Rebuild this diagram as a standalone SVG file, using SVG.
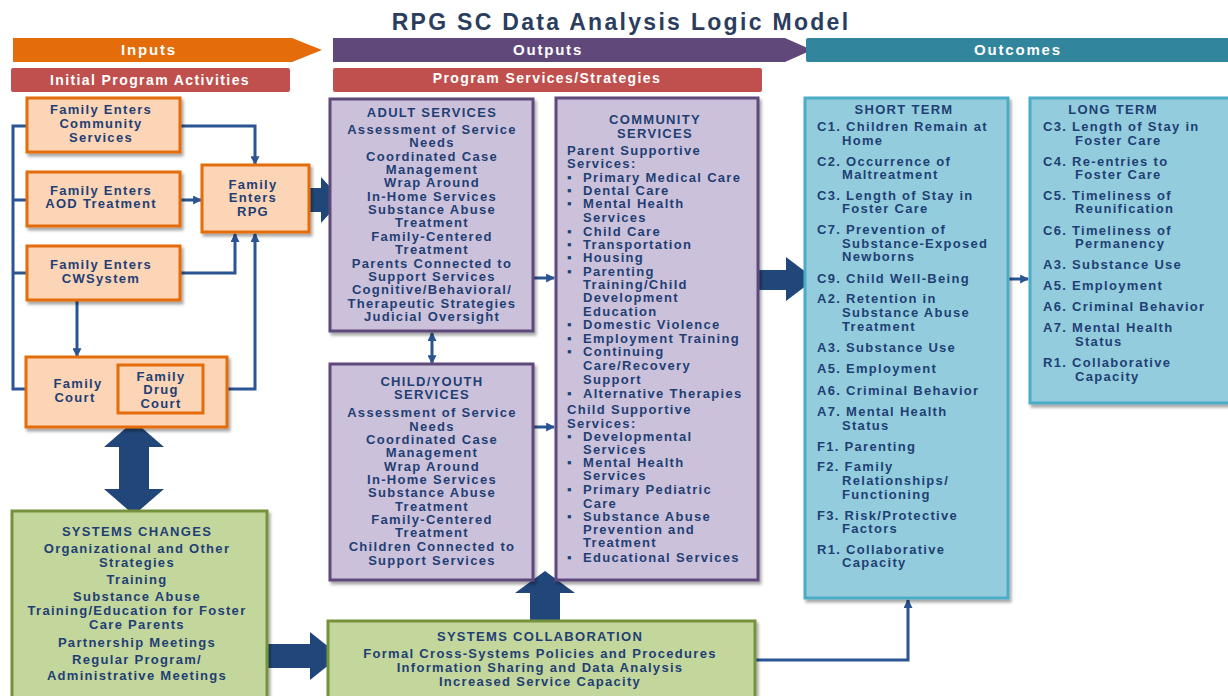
<svg xmlns="http://www.w3.org/2000/svg" width="1228" height="696" viewBox="0 0 1228 696">
<style>
.t{font-family:"Liberation Sans",Arial,sans-serif;font-weight:bold;font-size:13px;letter-spacing:1.3px;fill:#1f3f74}
.c{text-anchor:middle}
.h{font-family:"Liberation Sans",Arial,sans-serif;font-weight:bold;font-size:15px;letter-spacing:1.8px;fill:#ffffff;text-anchor:middle}
.s{font-family:"Liberation Sans",Arial,sans-serif;font-weight:bold;font-size:14px;letter-spacing:1.4px;fill:#ffffff;text-anchor:middle}
.or{fill:#fbd5b5;stroke:#e46c0a;stroke-width:3}
.pu{fill:#ccc1da;stroke:#5f497a;stroke-width:3}
.te{fill:#93cddd;stroke:#4bacc6;stroke-width:3}
.gr{fill:#c3d69b;stroke:#76923c;stroke-width:3}
.ln{fill:none;stroke:#2a5592;stroke-width:3}
.blk{fill:#21477a}
</style>
<defs>
<filter id="sh" x="-10%" y="-10%" width="130%" height="130%">
<feDropShadow dx="2" dy="3" stdDeviation="1.5" flood-color="#000" flood-opacity="0.35"/>
</filter>
<marker id="ah" viewBox="0 0 8 8" refX="7" refY="4" markerWidth="9" markerHeight="9" markerUnits="userSpaceOnUse" orient="auto-start-reverse">
<path d="M0,0 L8,4 L0,8 z" fill="#2a5592"/>
</marker>
</defs>

<g id="title">
<text x="621" y="30" style="font-family:'Liberation Sans',Arial,sans-serif;font-weight:bold;font-size:23px;letter-spacing:2.3px;fill:#2b3d5c;text-anchor:middle">RPG SC Data Analysis Logic Model</text>
</g>

<g id="header-inputs">
<polygon points="13,38 292,38 322,50 292,62 13,62" fill="#e46c0a"/>
<text class="h" x="149" y="55">Inputs</text>
</g>
<g id="header-outputs">
<polygon points="333,38 785,38 812,50 785,62 333,62" fill="#60497a"/>
<text class="h" x="548" y="55">Outputs</text>
</g>
<g id="header-outcomes">
<rect x="806" y="38" width="424" height="24" rx="2" fill="#31859c"/>
<text class="h" x="1018" y="55">Outcomes</text>
</g>
<g id="sub-initial">
<rect x="11" y="68" width="279" height="24" rx="2" fill="#c0504d"/>
<text class="s" x="150" y="85">Initial Program Activities</text>
</g>
<g id="sub-program">
<rect x="333" y="68" width="429" height="24" rx="2" fill="#c0504d"/>
<text class="s" x="547" y="83">Program Services/Strategies</text>
</g>

<g id="connectors">
<path class="ln" d="M26,126 H13 V389 H26"/>
<path class="ln" d="M13,200 H26"/>
<path class="ln" d="M13,273 H26"/>
<path class="ln" d="M180,126 H255 V164" marker-end="url(#ah)"/>
<path class="ln" d="M180,200 H201" marker-end="url(#ah)"/>
<path class="ln" d="M180,273 H235 V234" marker-end="url(#ah)"/>
<path class="ln" d="M203,389 H255 V234" marker-end="url(#ah)"/>
<path class="ln" d="M77,300 V356" marker-end="url(#ah)"/>
<path class="ln" d="M432,333 V363" marker-start="url(#ah)" marker-end="url(#ah)"/>
<path class="ln" d="M533,278 H554" marker-end="url(#ah)"/>
<path class="ln" d="M533,427 H554" marker-end="url(#ah)"/>
<path class="ln" d="M1008,279 H1028" marker-end="url(#ah)"/>
<path class="ln" d="M755,660 H908 V600" marker-end="url(#ah)"/>
<polygon class="blk" points="310,188 321,188 321,177 342,200 321,223 321,212 310,212"/>
<polygon class="blk" points="758,270 786,270 786,257 815,279 786,301 786,290 758,290"/>
<polygon class="blk" points="530,622 530,593 515,593 545,571 575,593 560,593 560,622"/>
<polygon class="blk" points="267,644 310,644 310,632 340,656 310,680 310,668 267,668"/>
<polygon class="blk" points="134,421 164,447 149,447 149,489 164,489 134,515 104,489 119,489 119,447 104,447"/>
</g>

<g id="community-entry">
<rect class="or" x="27" y="98" width="153" height="54" filter="url(#sh)"/>
<text class="t c" x="101" y="114">Family Enters</text>
<text class="t c" x="101" y="128">Community</text>
<text class="t c" x="101" y="142">Services</text>
</g>
<g id="aod-entry">
<rect class="or" x="27" y="172" width="153" height="54" filter="url(#sh)"/>
<text class="t c" x="101" y="195">Family Enters</text>
<text class="t c" x="101" y="208">AOD Treatment</text>
</g>
<g id="rpg">
<rect class="or" x="202" y="165" width="107" height="67" filter="url(#sh)"/>
<text class="t c" x="253" y="189">Family</text>
<text class="t c" x="253" y="202">Enters</text>
<text class="t c" x="253" y="216">RPG</text>
</g>
<g id="cw-entry">
<rect class="or" x="27" y="246" width="153" height="54" filter="url(#sh)"/>
<text class="t c" x="101" y="269">Family Enters</text>
<text class="t c" x="101" y="283">CWSystem</text>
</g>
<g id="family-court">
<rect class="or" x="26" y="357" width="201" height="70" filter="url(#sh)"/>
<text class="t c" x="78" y="388">Family</text>
<text class="t c" x="75" y="402">Court</text>
</g>
<g id="drug-court">
<rect class="or" x="118" y="365" width="85" height="48"/>
<text class="t c" x="161" y="381">Family</text>
<text class="t c" x="161" y="394">Drug</text>
<text class="t c" x="161" y="408">Court</text>
</g>

<g id="adult-services">
<rect class="pu" x="330" y="99" width="203" height="232" filter="url(#sh)"/>
<text class="t c" x="432" y="117">ADULT SERVICES</text>
<text class="t c" x="432" y="134">Assessment of Service</text>
<text class="t c" x="432" y="147">Needs</text>
<text class="t c" x="432" y="161">Coordinated Case</text>
<text class="t c" x="432" y="174">Management</text>
<text class="t c" x="432" y="187">Wrap Around</text>
<text class="t c" x="432" y="201">In-Home Services</text>
<text class="t c" x="432" y="214">Substance Abuse</text>
<text class="t c" x="432" y="227">Treatment</text>
<text class="t c" x="432" y="241">Family-Centered</text>
<text class="t c" x="432" y="254">Treatment</text>
<text class="t c" x="432" y="268">Parents Connected to</text>
<text class="t c" x="432" y="281">Support Services</text>
<text class="t c" x="432" y="294">Cognitive/Behavioral/</text>
<text class="t c" x="432" y="308">Therapeutic Strategies</text>
<text class="t c" x="432" y="321">Judicial Oversight</text>
</g>

<g id="child-services">
<rect class="pu" x="330" y="364" width="203" height="216" filter="url(#sh)"/>
<text class="t c" x="432" y="386">CHILD/YOUTH</text>
<text class="t c" x="432" y="399">SERVICES</text>
<text class="t c" x="432" y="417">Assessment of Service</text>
<text class="t c" x="432" y="431">Needs</text>
<text class="t c" x="432" y="444">Coordinated Case</text>
<text class="t c" x="432" y="457">Management</text>
<text class="t c" x="432" y="471">Wrap Around</text>
<text class="t c" x="432" y="484">In-Home Services</text>
<text class="t c" x="432" y="497">Substance Abuse</text>
<text class="t c" x="432" y="511">Treatment</text>
<text class="t c" x="432" y="524">Family-Centered</text>
<text class="t c" x="432" y="537">Treatment</text>
<text class="t c" x="432" y="551">Children Connected to</text>
<text class="t c" x="432" y="565">Support Services</text>
</g>

<g id="community-services">
<rect class="pu" x="556" y="98" width="202" height="482" filter="url(#sh)"/>
<text class="t c" x="655" y="124">COMMUNITY</text>
<text class="t c" x="655" y="138">SERVICES</text>
<text class="t" x="567" y="155">Parent Supportive</text>
<text class="t" x="567" y="168">Services:</text>
<text class="t" x="567" y="182">▪</text><text class="t" x="583" y="182">Primary Medical Care</text>
<text class="t" x="567" y="195">▪</text><text class="t" x="583" y="195">Dental Care</text>
<text class="t" x="567" y="208">▪</text><text class="t" x="583" y="208">Mental Health</text>
<text class="t" x="583" y="222">Services</text>
<text class="t" x="567" y="236">▪</text><text class="t" x="583" y="236">Child Care</text>
<text class="t" x="567" y="249">▪</text><text class="t" x="583" y="249">Transportation</text>
<text class="t" x="567" y="262">▪</text><text class="t" x="583" y="262">Housing</text>
<text class="t" x="567" y="276">▪</text><text class="t" x="583" y="276">Parenting</text>
<text class="t" x="583" y="289">Training/Child</text>
<text class="t" x="583" y="302">Development</text>
<text class="t" x="583" y="316">Education</text>
<text class="t" x="567" y="329">▪</text><text class="t" x="583" y="329">Domestic Violence</text>
<text class="t" x="567" y="343">▪</text><text class="t" x="583" y="343">Employment Training</text>
<text class="t" x="567" y="356">▪</text><text class="t" x="583" y="356">Continuing</text>
<text class="t" x="583" y="370">Care/Recovery</text>
<text class="t" x="583" y="384">Support</text>
<text class="t" x="567" y="398">▪</text><text class="t" x="583" y="398">Alternative Therapies</text>
<text class="t" x="567" y="414">Child Supportive</text>
<text class="t" x="567" y="428">Services:</text>
<text class="t" x="567" y="441">▪</text><text class="t" x="583" y="441">Developmental</text>
<text class="t" x="583" y="454">Services</text>
<text class="t" x="567" y="467">▪</text><text class="t" x="583" y="467">Mental Health</text>
<text class="t" x="583" y="480">Services</text>
<text class="t" x="567" y="494">▪</text><text class="t" x="583" y="494">Primary Pediatric</text>
<text class="t" x="583" y="508">Care</text>
<text class="t" x="567" y="521">▪</text><text class="t" x="583" y="521">Substance Abuse</text>
<text class="t" x="583" y="534">Prevention and</text>
<text class="t" x="583" y="547">Treatment</text>
<text class="t" x="567" y="562">▪</text><text class="t" x="583" y="562">Educational Services</text>
</g>

<g id="short-term">
<rect class="te" x="805" y="98" width="203" height="500" filter="url(#sh)"/>
<text class="t c" x="904" y="114">SHORT TERM</text>
<text class="t" x="817" y="131">C1. Children Remain at</text>
<text class="t" x="842" y="145">Home</text>
<text class="t" x="817" y="166">C2. Occurrence of</text>
<text class="t" x="842" y="179">Maltreatment</text>
<text class="t" x="817" y="200">C3. Length of Stay in</text>
<text class="t" x="842" y="213">Foster Care</text>
<text class="t" x="817" y="234">C7. Prevention of</text>
<text class="t" x="842" y="248">Substance-Exposed</text>
<text class="t" x="842" y="261">Newborns</text>
<text class="t" x="817" y="283">C9. Child Well-Being</text>
<text class="t" x="817" y="303">A2. Retention in</text>
<text class="t" x="842" y="317">Substance Abuse</text>
<text class="t" x="842" y="331">Treatment</text>
<text class="t" x="817" y="352">A3. Substance Use</text>
<text class="t" x="817" y="373">A5. Employment</text>
<text class="t" x="817" y="395">A6. Criminal Behavior</text>
<text class="t" x="817" y="416">A7. Mental Health</text>
<text class="t" x="842" y="430">Status</text>
<text class="t" x="817" y="451">F1. Parenting</text>
<text class="t" x="817" y="471">F2. Family</text>
<text class="t" x="842" y="485">Relationships/</text>
<text class="t" x="842" y="499">Functioning</text>
<text class="t" x="817" y="520">F3. Risk/Protective</text>
<text class="t" x="842" y="533">Factors</text>
<text class="t" x="817" y="554">R1. Collaborative</text>
<text class="t" x="842" y="567">Capacity</text>
</g>

<g id="long-term">
<rect class="te" x="1030" y="98" width="204" height="305" filter="url(#sh)"/>
<text class="t c" x="1113" y="114">LONG TERM</text>
<text class="t" x="1043" y="131">C3. Length of Stay in</text>
<text class="t" x="1075" y="145">Foster Care</text>
<text class="t" x="1043" y="166">C4. Re-entries to</text>
<text class="t" x="1075" y="179">Foster Care</text>
<text class="t" x="1043" y="200">C5. Timeliness of</text>
<text class="t" x="1075" y="213">Reunification</text>
<text class="t" x="1043" y="235">C6. Timeliness of</text>
<text class="t" x="1075" y="248">Permanency</text>
<text class="t" x="1043" y="269">A3. Substance Use</text>
<text class="t" x="1043" y="290">A5. Employment</text>
<text class="t" x="1043" y="311">A6. Criminal Behavior</text>
<text class="t" x="1043" y="332">A7. Mental Health</text>
<text class="t" x="1075" y="346">Status</text>
<text class="t" x="1043" y="367">R1. Collaborative</text>
<text class="t" x="1075" y="381">Capacity</text>
</g>

<g id="systems-changes">
<rect class="gr" x="12" y="511" width="255" height="200" filter="url(#sh)"/>
<text class="t c" x="137" y="536">SYSTEMS CHANGES</text>
<text class="t c" x="137" y="553">Organizational and Other</text>
<text class="t c" x="137" y="567">Strategies</text>
<text class="t c" x="137" y="584">Training</text>
<text class="t c" x="137" y="601">Substance Abuse</text>
<text class="t c" x="137" y="615">Training/Education for Foster</text>
<text class="t c" x="137" y="629">Care Parents</text>
<text class="t c" x="137" y="647">Partnership Meetings</text>
<text class="t c" x="137" y="664">Regular Program/</text>
<text class="t c" x="137" y="680">Administrative Meetings</text>
</g>

<g id="systems-collaboration">
<rect class="gr" x="328" y="621" width="427" height="90" filter="url(#sh)"/>
<text class="t c" x="540" y="641">SYSTEMS COLLABORATION</text>
<text class="t c" x="540" y="658">Formal Cross-Systems Policies and Procedures</text>
<text class="t c" x="540" y="672">Information Sharing and Data Analysis</text>
<text class="t c" x="540" y="686">Increased Service Capacity</text>
</g>
</svg>
